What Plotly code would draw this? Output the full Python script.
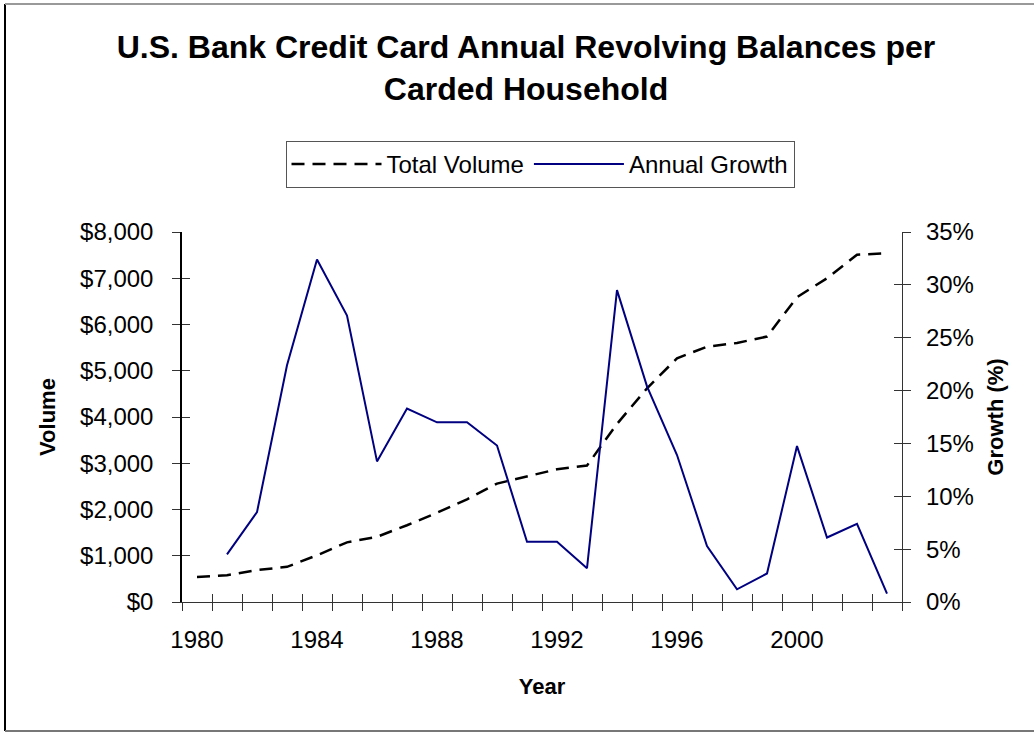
import plotly.graph_objects as go

years = list(range(1980, 2004))
total_volume = [540, 580, 690, 760, 1010, 1290, 1410, 1660, 1930, 2220, 2560, 2710,
                2870, 2950, 3850, 4620, 5270, 5520, 5600, 5740, 6590, 7000, 7510, 7540]
growth_years = list(range(1981, 2004))
annual_growth = [4.5, 8.5, 22.4, 32.4, 27.1, 13.3, 18.3, 17.0, 17.0, 14.8, 5.7,
                 5.7, 3.2, 29.5, 20.4, 13.9, 5.3, 1.2, 2.7, 14.75, 6.1, 7.4, 0.8]
label_years = [1980, 1984, 1988, 1992, 1996, 2000]
volume_ticks = list(range(0, 8001, 1000))
growth_ticks = list(range(0, 36, 5))

boundaries = [y - 0.5 for y in years] + [years[-1] + 0.5]
xrange_ = [years[0] - 0.5, years[-1] + 0.5]

FONT = "Liberation Sans, Arial, Helvetica, sans-serif"

fig = go.Figure()
fig.add_trace(go.Scatter(x=years, y=total_volume, name="Total Volume", mode="lines",
                         line=dict(color="black", width=2.5, dash="13px,8px"),
                         yaxis="y"))
fig.add_trace(go.Scatter(x=growth_years, y=annual_growth, name="Annual Growth", mode="lines",
                         line=dict(color="#000080", width=2), yaxis="y2"))
# helper traces so the overlay tick axes are drawn
fig.add_trace(go.Scatter(x=[None], y=[None], xaxis="x2", yaxis="y3", showlegend=False, hoverinfo="skip"))
fig.add_trace(go.Scatter(x=[None], y=[None], xaxis="x2", yaxis="y4", showlegend=False, hoverinfo="skip"))

axis_color = "#333333"
TICK = 24
fig.update_layout(
    width=1034, height=732,
    margin=dict(l=182, r=132, t=232, b=130),
    paper_bgcolor="white", plot_bgcolor="white",
    font=dict(family=FONT, size=TICK, color="black"),
    title=dict(text="U.S. Bank Credit Card Annual Revolving Balances per<br>Carded Household",
               font=dict(family=FONT, size=32, weight="bold"),
               xref="container", x=526/1034, xanchor="center",
               yref="container", y=1 - 58/732, yanchor="top", pad=dict(t=0)),
    showlegend=True,
    legend=dict(orientation="h", x=(540 - 182) / 720, xanchor="center",
                y=(602 - 141) / 370, yanchor="top",
                bordercolor="#555555", borderwidth=1, bgcolor="white",
                font=dict(size=TICK), itemwidth=90),
    xaxis=dict(range=xrange_, tickmode="array", tickvals=label_years,
               ticktext=[str(y) for y in label_years], ticks="",
               showgrid=False, zeroline=False, showline=True, linecolor=axis_color, linewidth=1.2,
               minor=dict(tickmode="array", tickvals=boundaries, ticks="outside",
                          ticklen=8, tickcolor=axis_color, tickwidth=1, showgrid=False),
               ticklabelstandoff=16,
               title=dict(text="Year", font=dict(size=22, weight="bold"), standoff=26)),
    xaxis2=dict(range=xrange_, overlaying="x", anchor="y", side="bottom",
                tickmode="array", tickvals=boundaries, ticks="inside", ticklen=8,
                tickcolor=axis_color, showticklabels=False, showgrid=False,
                zeroline=False, showline=False),
    yaxis=dict(range=[0, 8000], tickmode="array", tickvals=volume_ticks,
               ticktext=["${:,}".format(v) for v in volume_ticks],
               ticks="outside", ticklen=8, tickcolor=axis_color,
               showgrid=False, zeroline=False, showline=True, linecolor="black", linewidth=1.5,
               ticklabelstandoff=14,
               title=dict(text="Volume", font=dict(size=22, weight="bold"), standoff=18)),
    yaxis2=dict(range=[0, 35], overlaying="y", side="right", anchor="x",
                tickmode="array", tickvals=growth_ticks,
                ticktext=[f"{v}%" for v in growth_ticks],
                ticks="outside", ticklen=8, tickcolor=axis_color,
                showgrid=False, zeroline=False, showline=True, linecolor=axis_color, linewidth=1.2,
                ticklabelstandoff=10,
                title=dict(text="Growth (%)", font=dict(size=22, weight="bold"), standoff=14)),
    yaxis3=dict(range=[0, 8000], overlaying="y", side="left", anchor="x2",
                tickmode="array", tickvals=volume_ticks, ticks="inside", ticklen=8,
                tickcolor=axis_color, showticklabels=False, showgrid=False,
                zeroline=False, showline=False),
    yaxis4=dict(range=[0, 35], overlaying="y", side="right", anchor="x2",
                tickmode="array", tickvals=growth_ticks, ticks="inside", ticklen=8,
                tickcolor=axis_color, showticklabels=False, showgrid=False,
                zeroline=False, showline=False),
)

# chart border (left, top, bottom edges of the outer frame)
def px_x(p):
    return (p - 182) / 720

def px_y(p):
    return (602 - p) / 370

fig.add_shape(type="line", xref="paper", yref="paper", x0=px_x(5), x1=px_x(5),
              y0=px_y(4), y1=px_y(731), line=dict(color="black", width=2))
fig.add_shape(type="line", xref="paper", yref="paper", x0=px_x(5), x1=px_x(1040),
              y0=px_y(4), y1=px_y(4), line=dict(color="#999999", width=2))
fig.add_shape(type="line", xref="paper", yref="paper", x0=px_x(5), x1=px_x(1040),
              y0=px_y(731), y1=px_y(731), line=dict(color="#777777", width=2))

fig.write_html("out.html")
